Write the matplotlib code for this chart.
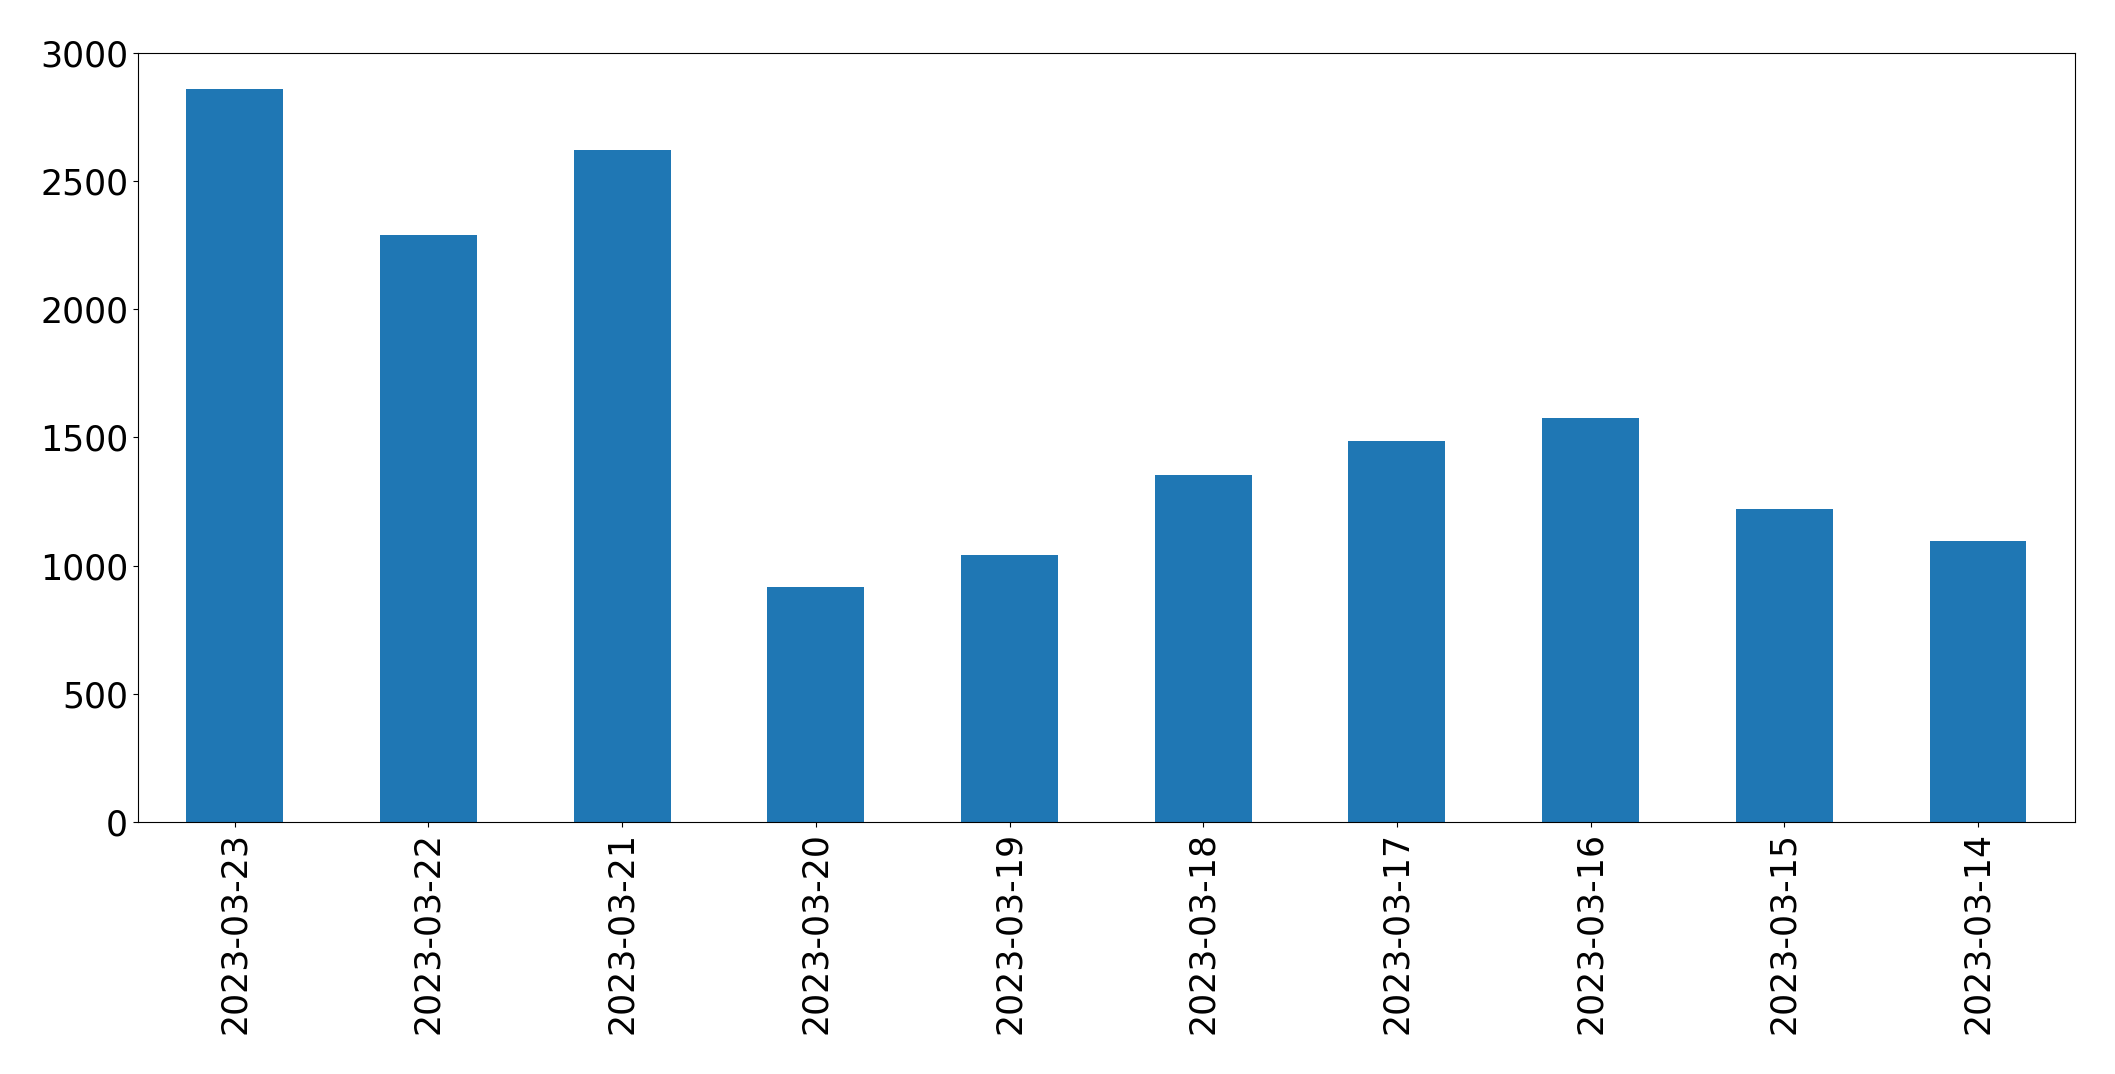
import matplotlib
matplotlib.use("Agg")
import matplotlib.pyplot as plt

# Daily totals, newest first
dates = ["2023-03-23", "2023-03-22", "2023-03-21", "2023-03-20", "2023-03-19",
         "2023-03-18", "2023-03-17", "2023-03-16", "2023-03-15", "2023-03-14"]
counts = [2860, 2289, 2621, 917, 1043, 1354, 1487, 1577, 1222, 1096]

fig = plt.figure(figsize=(21.15, 10.74), dpi=100)
ax = fig.add_axes([0.0652, 0.2346, 0.9158, 0.7161])

x = list(range(len(dates)))
ax.bar(x, counts, width=0.5, color="#1f77b4")
ax.set_xlim(-0.5, len(dates) - 0.5)
ax.set_ylim(0, 3000)
ax.set_xticks(x)
ax.set_xticklabels(dates, rotation=90)
ax.tick_params(axis="both", labelsize=25)

fig.savefig("out.png", dpi=100)
